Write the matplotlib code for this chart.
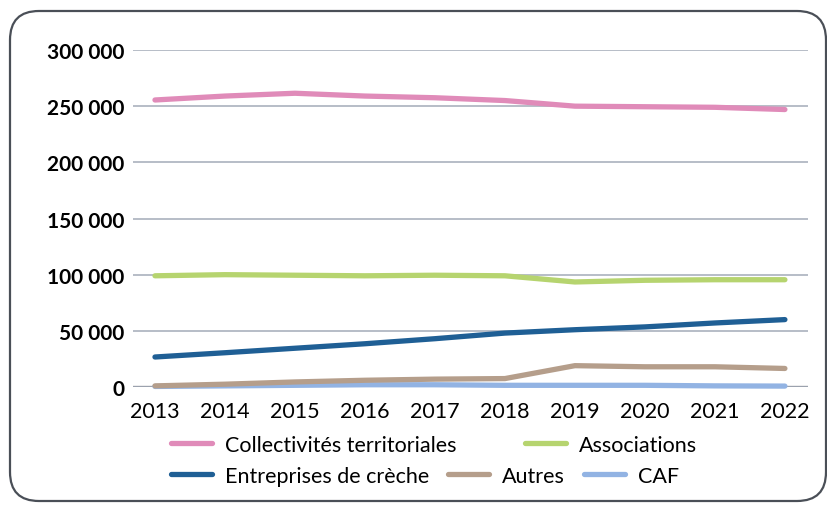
import matplotlib
matplotlib.use("Agg")
import matplotlib.pyplot as plt
from matplotlib.patches import FancyBboxPatch
from matplotlib.lines import Line2D
from matplotlib.ticker import FuncFormatter

years = [2013, 2014, 2015, 2016, 2017, 2018, 2019, 2020, 2021, 2022]
collectivites = [255500, 259000, 261500, 259000, 257500, 255000, 250000, 249500, 249000, 247000]
associations = [99000, 100000, 99500, 99000, 99500, 99000, 93500, 95000, 95500, 95500]
entreprises = [26700, 30500, 34500, 38500, 43000, 48000, 51000, 53500, 57000, 60000]
autres = [1000, 2500, 4500, 6000, 7000, 7500, 19000, 18000, 18000, 16500]
caf = [500, 1000, 1500, 2000, 2000, 1500, 1500, 1500, 1000, 800]
series_names = ["Collectivités territoriales", "Associations", "Entreprises de crèche", "Autres", "CAF"]
yticks = [0, 50000, 100000, 150000, 200000, 250000, 300000]

colors = ["#e08bb9", "#b6d46f", "#1f5f95", "#b59e8b", "#92b3e3"]
plt.rcParams['font.family'] = ['Lato', 'DejaVu Sans']

W, H = 828, 506
fig = plt.figure(figsize=(W/100, H/100), dpi=100)

frame = FancyBboxPatch((10/W, 4/H), (816/W), (490/H), boxstyle="round,pad=0,rounding_size=0.035",
                       transform=fig.transFigure, facecolor="none", edgecolor="#4a4f57", linewidth=1.6,
                       mutation_aspect=W/H, zorder=-1)
fig.patches.append(frame)

ax = fig.add_axes([133/W, 1-388/H, (808-133)/W, (388-51)/H])
ax.set_facecolor("none")
data = [collectivites, associations, entreprises, autres, caf]
order = [4, 3, 2, 1, 0]
for i in order:
    ax.plot(years, data[i], color=colors[i], lw=3.8, solid_capstyle="round", clip_on=False, zorder=3 + (4 - i))
ax.set_xlim(2012.686, 2022.33)
ax.set_ylim(0, 300000)
ax.set_yticks(yticks)
ax.yaxis.set_major_formatter(FuncFormatter(lambda v, p: f"{int(v):,}".replace(",", " ")))
ax.set_xticks(years)
for s in ax.spines.values():
    s.set_visible(False)
ax.grid(axis="y", color="#aab1bd", lw=1.2, zorder=0)
ax.axhline(0, color="#555b64", lw=1.6, zorder=1)
ax.tick_params(axis="y", length=0, pad=6, labelsize=15)
ax.tick_params(axis="x", length=0, pad=10, labelsize=15.5)
for t in ax.get_yticklabels():
    t.set_fontweight("bold")

def h(i):
    return Line2D([], [], color=colors[i], lw=3.8, solid_capstyle="round")

leg1 = fig.legend([h(0), h(1)], series_names[:2], loc="center left",
                  bbox_to_anchor=(160/W, 1-446/H), ncol=2, frameon=False, fontsize=15.5,
                  handlelength=1.9, handletextpad=0.6, columnspacing=3.2, borderpad=0)
leg2 = fig.legend([h(2), h(3), h(4)], series_names[2:], loc="center left",
                  bbox_to_anchor=(160/W, 1-477/H), ncol=3, frameon=False, fontsize=15.5,
                  handlelength=1.9, handletextpad=0.6, columnspacing=0.9, borderpad=0)

fig.savefig("out.png", dpi=100)
